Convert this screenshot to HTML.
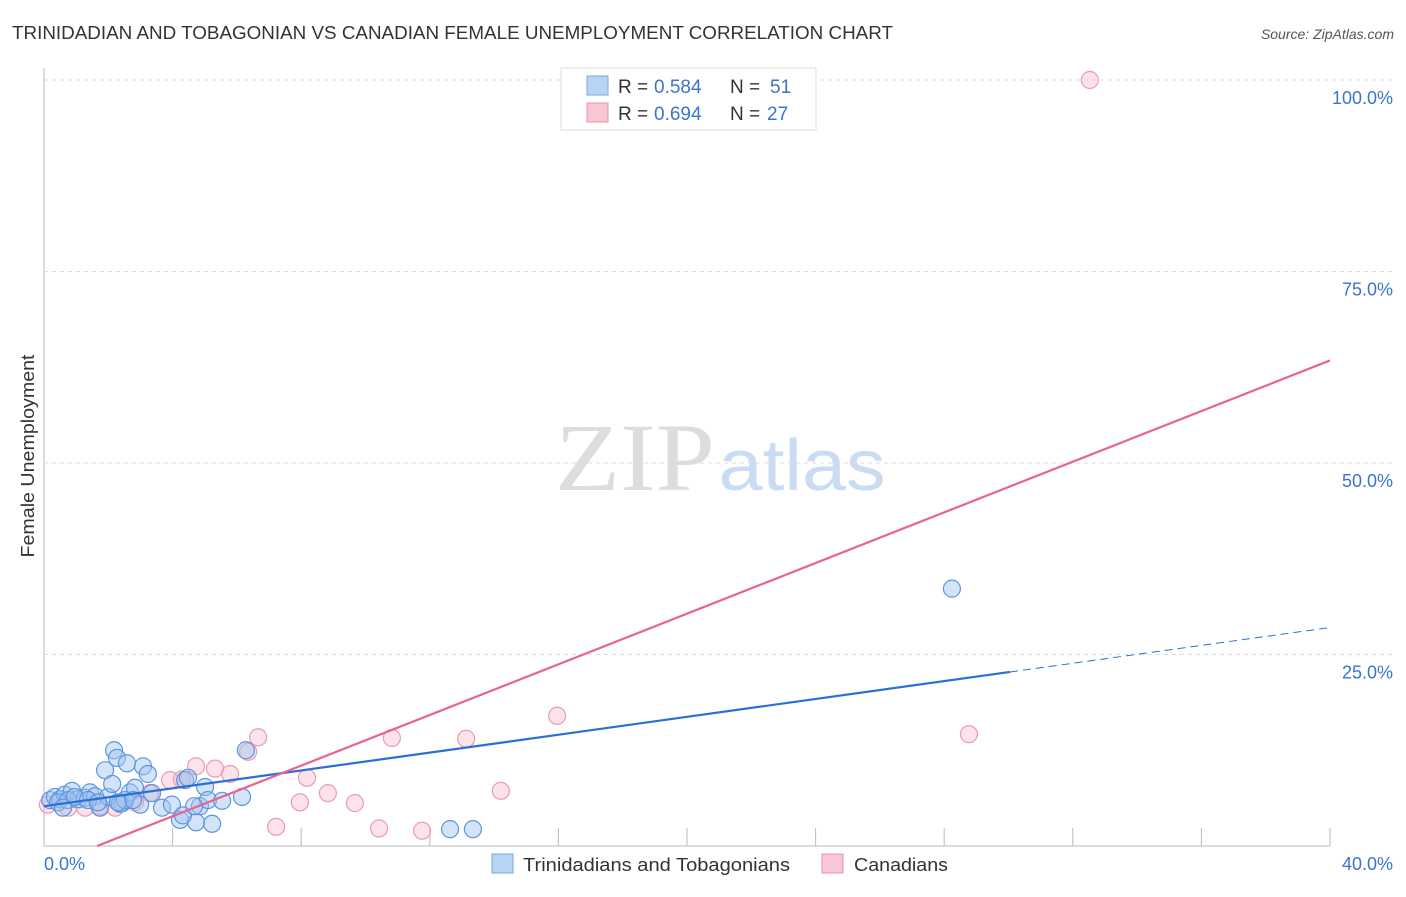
<!DOCTYPE html>
<html><head><meta charset="utf-8">
<style>
body{margin:0;background:#fff;font-family:"Liberation Sans",sans-serif;}
</style></head>
<body>
<svg id="chart" width="1406" height="892" font-family="Liberation Sans, sans-serif">
<text x="12" y="39" font-size="18" fill="#333" textLength="881" lengthAdjust="spacingAndGlyphs">TRINIDADIAN AND TOBAGONIAN VS CANADIAN FEMALE UNEMPLOYMENT CORRELATION CHART</text>
<text x="1394" y="39" font-size="14" fill="#555" font-style="italic" text-anchor="end">Source: ZipAtlas.com</text>
<text x="34" y="456" font-size="18" fill="#333" text-anchor="middle" textLength="203" lengthAdjust="spacingAndGlyphs" transform="rotate(-90 34 456)">Female Unemployment</text>
<g>
<text x="635" y="490" font-size="96" fill="#ddd" style="font-family:'Liberation Serif',serif" text-anchor="middle" textLength="160" lengthAdjust="spacingAndGlyphs">ZIP</text>
<text x="802" y="490" font-size="72" fill="#c9dcf3" text-anchor="middle" textLength="167" lengthAdjust="spacingAndGlyphs">atlas</text>
</g>
<g id="grid"></g>
<g id="marks"></g>
<g>
<rect x="561" y="68" width="255" height="62" fill="#fff" stroke="#ddd"/>
<rect x="587" y="76" width="21" height="19" fill="#b8d4f5" stroke="#7aa7e0"/>
<rect x="587" y="103" width="21" height="19" fill="#f9c6d4" stroke="#e890aa"/>
<text x="618" y="93" font-size="19" fill="#333">R =</text>
<text x="654" y="93" font-size="19" fill="#3a74d0">0.584</text>
<text x="730" y="93" font-size="19" fill="#333">N =</text>
<text x="770" y="93" font-size="19" fill="#3a74d0">51</text>
<text x="618" y="120" font-size="19" fill="#333">R =</text>
<text x="654" y="120" font-size="19" fill="#3a74d0">0.694</text>
<text x="730" y="120" font-size="19" fill="#333">N =</text>
<text x="767" y="120" font-size="19" fill="#3a74d0">27</text>
</g>
<g>
<rect x="492" y="854" width="21" height="19" fill="#b8d4f5" stroke="#7aa7e0"/>
<text x="523" y="871" font-size="18" fill="#333" textLength="267" lengthAdjust="spacingAndGlyphs">Trinidadians and Tobagonians</text>
<rect x="822" y="854" width="21" height="19" fill="#f9c6d4" stroke="#e890aa"/>
<text x="854" y="871" font-size="18" fill="#333" textLength="94" lengthAdjust="spacingAndGlyphs">Canadians</text>
</g>
</svg>
<script>
const yTicks=[25,50,75,100];
const yTickLabels=["25.0%","50.0%","75.0%","100.0%"];
const xTickLabels=["0.0%","40.0%"];
const blueX=[0.19,0.34,0.50,0.65,0.87,1.06,1.28,1.43,1.59,1.74,1.90,1.99,2.12,2.18,2.27,2.43,2.58,2.67,2.83,2.99,3.08,3.23,3.36,3.67,3.98,4.23,4.39,4.48,4.73,4.85,5.01,5.10,5.23,5.54,6.16,6.28,12.63,13.34,28.24,0.44,0.75,0.96,1.37,1.68,2.36,2.52,2.77,4.32,4.67,2.30,0.59];
const blueY=[6.0,6.4,6.1,6.7,7.2,6.1,6.3,7.0,6.5,5.0,9.9,6.4,8.1,12.5,11.5,5.6,10.8,7.0,7.6,5.4,10.4,9.4,6.9,5.0,5.4,3.4,8.6,8.9,3.1,5.2,7.7,6.0,2.9,5.9,6.4,12.5,2.2,2.2,33.6,5.7,6.0,6.4,6.0,5.7,5.5,6.0,6.0,4.0,5.2,5.7,5.0];
const pinkX=[32.53,0.12,0.75,1.28,1.74,2.21,2.83,3.30,3.92,4.29,4.73,5.32,5.79,6.35,6.66,7.22,7.96,8.18,8.83,9.67,10.42,10.82,11.76,13.13,14.21,15.96,28.77];
const pinkY=[100,5.4,5.0,5.0,5.2,5.0,5.7,6.9,8.6,8.7,10.4,10.1,9.4,12.3,14.2,2.5,5.7,8.9,6.9,5.6,2.3,14.1,2.0,14.0,7.2,17.0,14.6];
const blueTrend=[5.2,0.583];
const pinkTrend=[-2.73,1.653];
const X0=44,X1=1330,Y0=846,Y100=80;
const sx=v=>X0+(v/40)*(X1-X0);
const sy=v=>Y0-(v/100)*(Y0-Y100);
const NS="http://www.w3.org/2000/svg";
function mk(tag,attrs,parent){const e=document.createElementNS(NS,tag);for(const k in attrs)e.setAttribute(k,attrs[k]);parent.appendChild(e);return e;}
const grid=document.getElementById('grid'),marks=document.getElementById('marks');
let ax=mk('line',{x1:X0,y1:68,x2:X0,y2:Y0,stroke:'#bbb'},grid);


let bx=mk('line',{x1:X0,y1:Y0,x2:X1,y2:Y0,stroke:'#bbb'},grid);


for(let i=1;i<=10;i++){const x=X0+i*(X1-X0)/10;const t=mk('line',{x1:x,y1:828,x2:x,y2:Y0,stroke:'#bbb'},grid);

}
yTicks.forEach((v,i)=>{const g=mk('line',{x1:X0,y1:sy(v),x2:1394,y2:sy(v),stroke:'#ddd','stroke-dasharray':'4,4'},grid);


const t=mk('text',{x:1393,y:sy(v)+24,'font-size':18,fill:'#3a74d0','text-anchor':'end'},grid);t.textContent=yTickLabels[i];

});
[[44,'start'],[1393,'end']].forEach((p,i)=>{const t=mk('text',{x:p[0],y:870,'font-size':18,fill:'#3a74d0','text-anchor':p[1]},grid);t.textContent=xTickLabels[i];

});
pinkX.forEach((x,i)=>{const c=mk('circle',{cx:sx(x),cy:sy(pinkY[i]),r:8.5,fill:'rgba(249,190,208,0.45)',stroke:'#ec9ab2','stroke-width':1.2},marks);

});
blueX.forEach((x,i)=>{const c=mk('circle',{cx:sx(x),cy:sy(blueY[i]),r:8.5,fill:'rgba(160,196,240,0.45)',stroke:'#5d95df','stroke-width':1.2},marks);

});
const bxEnd=30.05;
let l1=mk('line',{x1:sx(0),y1:sy(blueTrend[0]),x2:sx(bxEnd),y2:sy(blueTrend[0]+blueTrend[1]*bxEnd),stroke:'#2a6fd6','stroke-width':2.2},marks);


let l2=mk('line',{x1:sx(bxEnd),y1:sy(blueTrend[0]+blueTrend[1]*bxEnd),x2:sx(40),y2:sy(blueTrend[0]+blueTrend[1]*40),stroke:'#2a6fd6','stroke-width':1,'stroke-dasharray':'8,5'},marks);


const px0=-pinkTrend[0]/pinkTrend[1];
let l3=mk('line',{x1:sx(px0),y1:sy(0),x2:sx(40),y2:sy(pinkTrend[0]+pinkTrend[1]*40),stroke:'#e8648f','stroke-width':2.2},marks);


</script>
</body></html>
